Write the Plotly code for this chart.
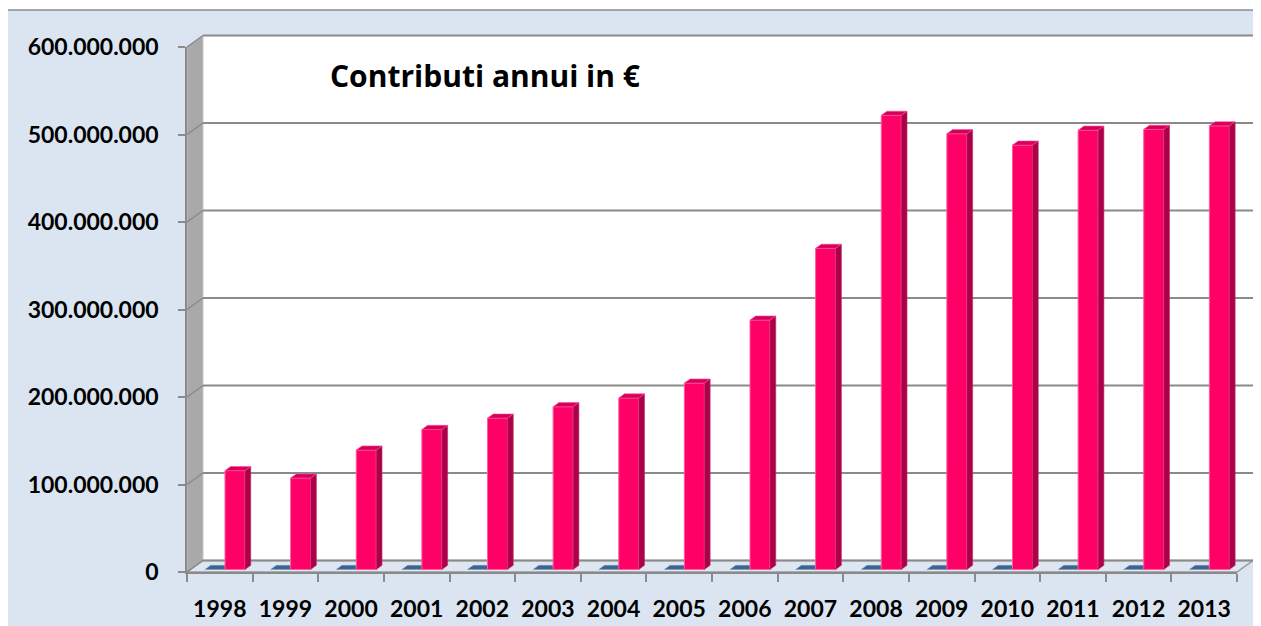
import plotly.graph_objects as go

# ---------------- data ----------------
years = ["1998", "1999", "2000", "2001", "2002", "2003", "2004", "2005",
         "2006", "2007", "2008", "2009", "2010", "2011", "2012", "2013"]
contributi = [113e6, 104.5e6, 136.5e6, 160e6, 173e6, 186e6, 196e6, 213e6,
              285e6, 367e6, 519e6, 498e6, 485e6, 502e6, 503e6, 507e6]
serie_2 = [0] * 16
y_ticks = [0, 100e6, 200e6, 300e6, 400e6, 500e6, 600e6]

# ---------------- geometry / style ----------------
PAGE_OFF = 8                       # browser body margin
W, H = 1261 - PAGE_OFF, 626 - PAGE_OFF
AX_L, AX_R, AX_T, AX_B = 187, 1237, 47, 572   # axis box in page pixels
L, R, T, B = AX_L - PAGE_OFF, 1261 - AX_R, AX_T - PAGE_OFF, 626 - AX_B
PW, PH = AX_R - AX_L, AX_B - AX_T
YMAX = 600e6
N = len(years)
XUNIT = PW / N                     # px per category
DEPTH_X, DEPTH_Y = 16, 11.5        # px of the 3D depth
dx_data = DEPTH_X / XUNIT
dy_data = DEPTH_Y / PH * YMAX
F0, F1 = 0.22, 0.58                # bar depth fraction
BAR_W = 0.305
OFF_PINK = 0.079
OFF_BLUE = -0.226

BG = "#dbe5f1"
GRID = "#8a8a8a"
PINK = "#ff0066"
PINK_SIDE = "#ad0048"
PINK_TOP = "#d6005c"
BLUE_TOP = "#3d6390"

def pp(px, py):
    return (px - AX_L) / PW, (AX_B - py) / PH

shapes = []
# outer chart area
x0, y0 = pp(7, 10)
x1, y1 = pp(1275, 640)
shapes.append(dict(type="rect", xref="paper", yref="paper", x0=x0, y0=y0, x1=x1, y1=y1,
                   fillcolor=BG, line=dict(color="#8c8c8c", width=1.5), layer="below"))
# back wall
dxp = DEPTH_X / PW
dyp = DEPTH_Y / PH
shapes.append(dict(type="rect", xref="paper", yref="paper", x0=dxp, y0=dyp, x1=1 + dxp, y1=1 + dyp,
                   fillcolor="white", line=dict(width=0), layer="below"))
# side wall
shapes.append(dict(type="path", xref="paper", yref="paper",
                   path=f"M0,0 L{dxp},{dyp} L{dxp},{1+dyp} L0,1 Z",
                   fillcolor="#a9a9a9", line=dict(color="#c4c4c4", width=1), layer="below"))
# floor
shapes.append(dict(type="path", xref="paper", yref="paper",
                   path=f"M0,0 L{dxp},{dyp} L{1+dxp},{dyp} L1,0 Z",
                   fillcolor="#dde6f1", line=dict(color="#9a9a9a", width=1.5), layer="below"))
# gridlines on back wall and side wall
for v in y_ticks:
    yp = v / YMAX
    shapes.append(dict(type="line", xref="paper", yref="paper", x0=dxp, x1=1 + dxp,
                       y0=yp + dyp, y1=yp + dyp, line=dict(color=GRID, width=2), layer="below"))
    shapes.append(dict(type="line", xref="paper", yref="paper", x0=0, x1=dxp,
                       y0=yp, y1=yp + dyp, line=dict(color=GRID, width=1.5), layer="below"))

base = F0 * dy_data
ddx = (F1 - F0) * dx_data
ddy = (F1 - F0) * dy_data

# blue series: top faces (zero height)
for i, v in enumerate(serie_2):
    bx0 = i + OFF_BLUE
    bx1 = bx0 + BAR_W
    yt = base + v
    shapes.append(dict(type="path", xref="x", yref="y",
                       path=f"M{bx0},{yt} L{bx0+ddx},{yt+ddy} L{bx1+ddx},{yt+ddy} L{bx1},{yt} Z",
                       fillcolor=BLUE_TOP, line=dict(color="#7f9cc0", width=0.5), layer="between"))

# pink series: side and top faces
for i, v in enumerate(contributi):
    bx0 = i + OFF_PINK
    bx1 = bx0 + BAR_W
    yt = base + v
    shapes.append(dict(type="path", xref="x", yref="y",
                       path=f"M{bx1},{base} L{bx1+ddx},{base+ddy} L{bx1+ddx},{yt+ddy} L{bx1},{yt} Z",
                       fillcolor=PINK_SIDE, line=dict(color="#c0306a", width=0.6), layer="above"))
    shapes.append(dict(type="path", xref="x", yref="y",
                       path=f"M{bx0},{yt} L{bx0+ddx},{yt+ddy} L{bx1+ddx},{yt+ddy} L{bx1},{yt} Z",
                       fillcolor=PINK_TOP, line=dict(color="#ff4d94", width=0.6), layer="above"))

xs = list(range(N))
fig = go.Figure()
fig.add_trace(go.Bar(x=xs, y=serie_2, base=base, offset=OFF_BLUE, width=BAR_W,
                     marker=dict(color="#4f81bd", line=dict(width=0)), showlegend=False,
                     hoverinfo="skip"))
fig.add_trace(go.Bar(x=xs, y=contributi, base=base, offset=OFF_PINK, width=BAR_W,
                     marker=dict(color=PINK, line=dict(color="#ff5c9d", width=1)),
                     showlegend=False))

tfont = dict(family="Lato", size=23, color="black", weight="bold")
fig.update_layout(
    width=W, height=H,
    margin=dict(l=L, r=R, t=T, b=B, pad=0, autoexpand=False),
    paper_bgcolor="white",
    plot_bgcolor="rgba(0,0,0,0)",
    separators=",.",
    barmode="overlay",
    shapes=shapes,
    xaxis=dict(range=[-0.5, N - 0.5], tickmode="array", tickvals=xs, ticktext=years,
               ticks="", showgrid=False, zeroline=False, automargin=False,
               showline=True, linecolor="#8a8a8a", linewidth=1.5,
               tickfont=tfont, ticklabelstandoff=16,
               minor=dict(tick0=0.5, dtick=1, ticks="outside", ticklen=8,
                          tickcolor="#8a8a8a", tickwidth=1.5, showgrid=False)),
    yaxis=dict(range=[0, YMAX], tickmode="array", tickvals=y_ticks, tickformat=",d",
               ticks="outside", ticklen=7, tickcolor="#8a8a8a", tickwidth=1.5,
               showgrid=False, zeroline=False, automargin=False,
               showline=True, linecolor="#8a8a8a", linewidth=1.5,
               tickfont=tfont, ticklabelstandoff=15),
    annotations=[dict(text="<b>Contributi annui in €</b>", xref="paper", yref="paper",
                      x=pp(328, 0)[0], y=pp(0, 75)[1], xanchor="left", yanchor="middle",
                      showarrow=False, font=dict(family="Open Sans", size=30, color="black"))],
)

fig.write_html("out.html")
